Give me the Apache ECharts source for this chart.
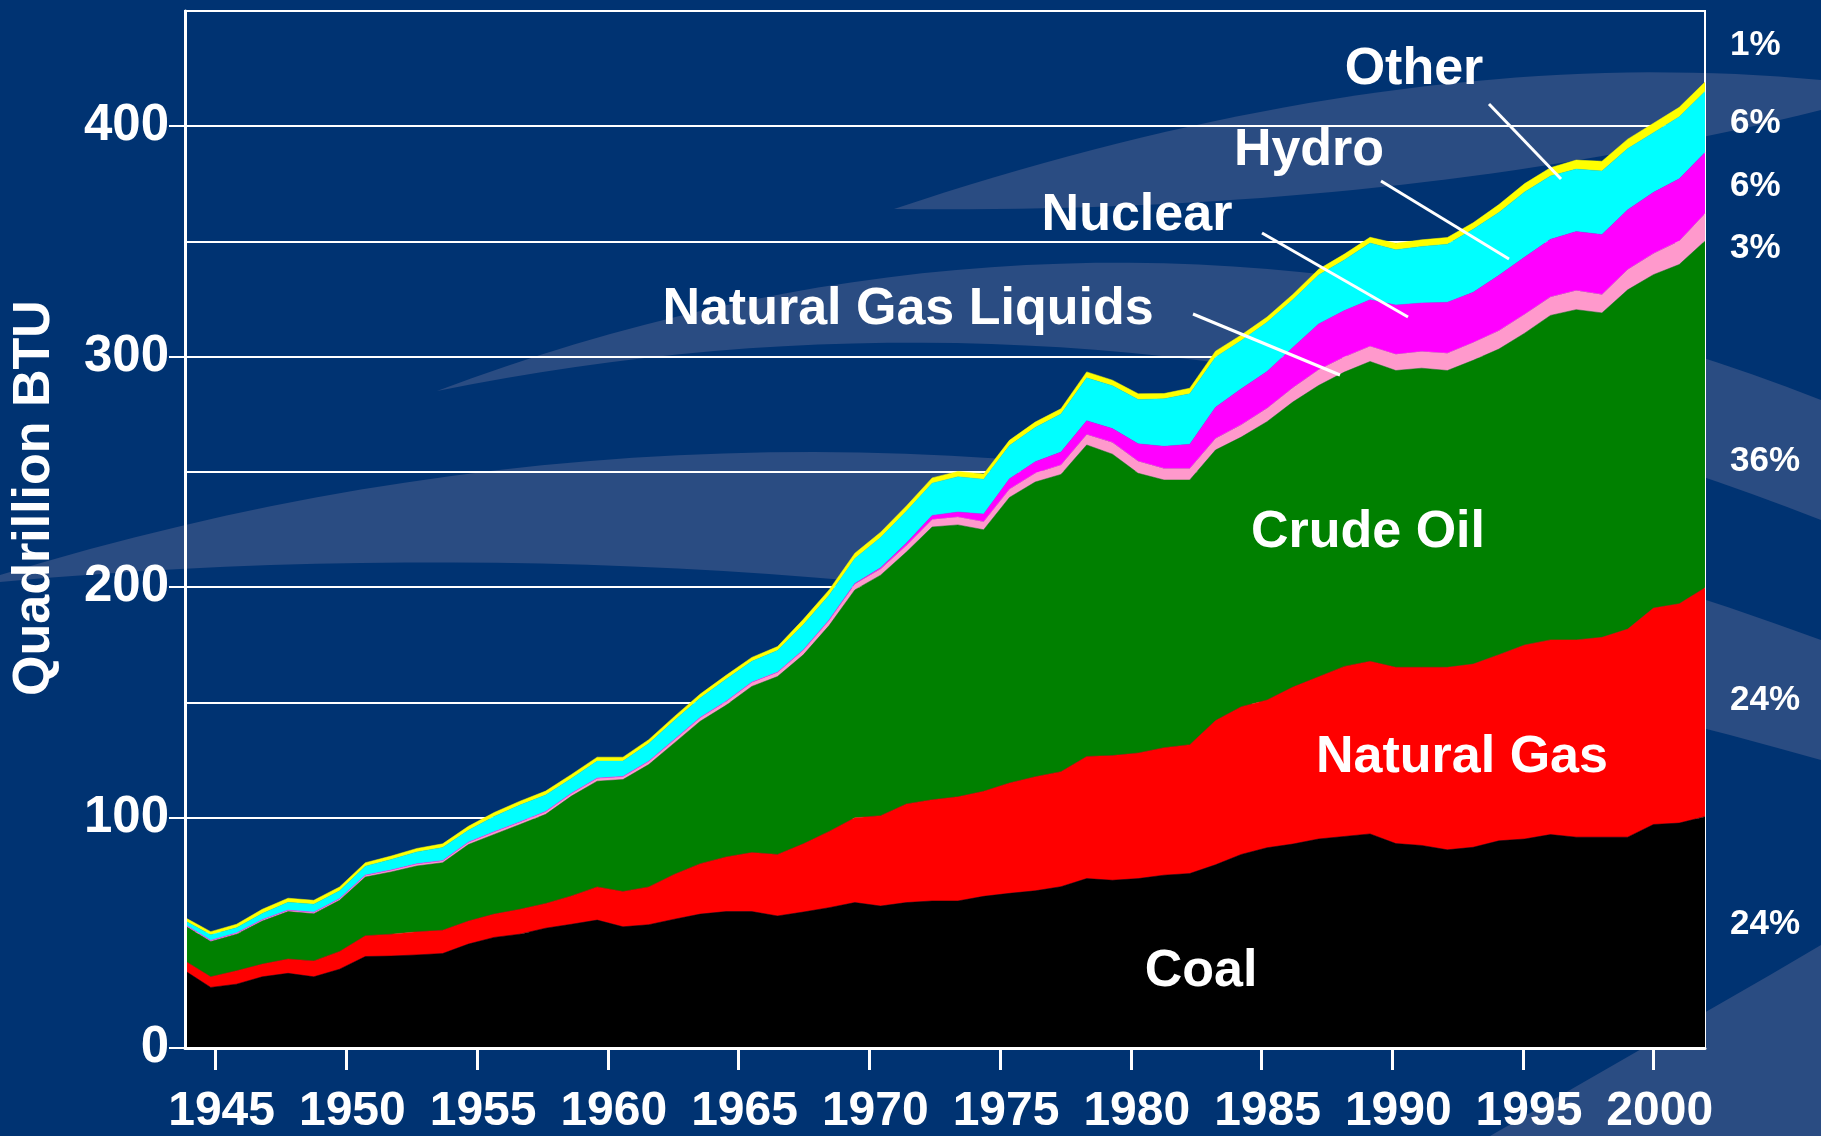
<!DOCTYPE html>
<html>
<head>
<meta charset="utf-8">
<title>Energy production by source</title>
<script src="https://cdn.jsdelivr.net/npm/echarts@6/dist/echarts.min.js"></script>
<style>
    html, body { margin: 0; padding: 0; background: #003372; }
    #chart { width: 1821px; height: 1136px; }
</style>
</head>
<body>
<div id="chart"></div>
<script>
// one point per year (quadrillion BTU)
const years = [
    1943, 1944, 1945, 1946, 1947, 1948, 1949, 1950, 1951, 1952,
    1953, 1954, 1955, 1956, 1957, 1958, 1959, 1960, 1961, 1962,
    1963, 1964, 1965, 1966, 1967, 1968, 1969, 1970, 1971, 1972,
    1973, 1974, 1975, 1976, 1977, 1978, 1979, 1980, 1981, 1982,
    1983, 1984, 1985, 1986, 1987, 1988, 1989, 1990, 1991, 1992,
    1993, 1994, 1995, 1996, 1997, 1998, 1999, 2000, 2001, 2002,
];
const coal = [
    33.5, 26.3, 27.7, 30.9, 32.4, 30.9, 34.2, 39.7, 39.9, 40.4,
    41.0, 45.1, 48.0, 49.4, 52.0, 53.7, 55.5, 52.6, 53.5, 55.9,
    58.1, 59.2, 59.2, 57.3, 59.0, 60.9, 63.1, 61.6, 63.1, 63.8,
    63.8, 65.8, 67.1, 68.2, 70.0, 73.5, 72.8, 73.5, 75.0, 75.7,
    79.5, 84.0, 86.9, 88.5, 90.7, 91.8, 92.9, 88.7, 87.9, 86.0,
    87.1, 89.9, 90.7, 92.6, 91.5, 91.5, 91.5, 97.0, 97.6, 100.4,
];
const naturalGas = [
    4.3, 4.6, 5.8, 5.5, 6.2, 6.9, 7.7, 9.0, 9.5, 10.0,
    10.1, 10.0, 10.1, 10.8, 10.7, 12.3, 14.4, 15.3, 16.4, 19.5,
    21.9, 23.7, 25.6, 26.7, 29.6, 33.1, 36.8, 39.2, 42.8, 43.9,
    45.2, 45.6, 47.9, 49.5, 49.9, 53.0, 54.1, 54.5, 55.3, 55.9,
    62.6, 64.1, 64.1, 68.1, 70.4, 73.8, 74.9, 76.5, 77.3, 79.2,
    79.5, 80.8, 84.2, 84.5, 85.6, 86.7, 90.3, 93.9, 95.2, 99.3,
];
const crudeOil = [
    15.2, 15.3, 15.9, 18.7, 20.6, 20.5, 22.2, 25.5, 27.0, 28.6,
    29.3, 33.2, 34.6, 36.8, 38.7, 43.3, 45.9, 48.6, 53.1, 57.0,
    61.8, 65.8, 72.1, 77.2, 82.0, 89.3, 98.9, 104.4, 109.3, 118.4,
    118.0, 113.5, 123.9, 127.9, 129.0, 135.2, 130.8, 121.4, 116.2, 114.9,
    117.4, 117.0, 120.8, 123.7, 126.4, 127.7, 130.1, 128.8, 129.8, 128.8,
    131.8, 132.6, 135.3, 140.8, 143.3, 140.8, 147.2, 144.7, 147.2, 150.5,
];
const ngLiquids = [
    0.5, 0.5, 0.5, 0.6, 0.6, 0.6, 0.7, 0.8, 0.8, 0.9,
    0.9, 1.0, 1.1, 1.1, 1.2, 1.2, 1.3, 1.3, 1.4, 1.5,
    1.6, 1.7, 1.8, 1.9, 2.1, 2.3, 2.5, 2.7, 2.9, 3.2,
    3.4, 3.5, 3.6, 3.8, 4.1, 4.5, 5.1, 5.2, 5.0, 5.0,
    5.0, 5.4, 5.8, 6.2, 6.8, 6.6, 6.6, 7.0, 7.2, 7.5,
    7.7, 8.0, 8.2, 8.0, 8.3, 8.0, 8.8, 9.2, 10.2, 11.9,
];
const nuclear = [
    0, 0, 0, 0, 0, 0, 0, 0, 0, 0,
    0, 0, 0, 0, 0, 0, 0, 0, 0, 0,
    0, 0, 0, 0, 0, 0.1, 0.3, 0.5, 1.0, 1.8,
    2.2, 3.3, 4.5, 5.0, 5.6, 6.0, 6.0, 7.6, 9.6, 10.5,
    13.6, 15.6, 16.0, 17.5, 19.9, 20.1, 20.2, 21.4, 21.1, 22.1,
    21.8, 24.0, 24.8, 25.0, 25.6, 26.0, 26.0, 26.5, 27.0, 26.5,
];
const hydro = [
    1.7, 2.4, 2.3, 2.7, 3.4, 3.5, 3.4, 3.9, 4.6, 5.2,
    5.7, 5.2, 6.7, 7.3, 7.2, 6.5, 7.4, 6.7, 7.7, 8.3,
    8.5, 9.6, 9.1, 9.4, 11.0, 10.8, 10.8, 13.1, 13.8, 14.0,
    15.3, 15.1, 14.4, 14.9, 16.5, 18.6, 18.6, 19.2, 20.6, 21.9,
    21.7, 20.9, 21.3, 20.7, 21.2, 22.0, 24.6, 24.0, 24.5, 25.2,
    27.4, 27.3, 28.3, 27.5, 27.1, 27.6, 26.5, 25.9, 26.9, 26.5,
];
const other = [
    1.4, 1.4, 1.5, 1.8, 1.8, 1.7, 1.7, 1.5, 1.5, 1.5,
    1.6, 1.7, 1.7, 1.7, 1.7, 1.7, 1.7, 1.7, 1.7, 1.7,
    1.7, 1.7, 1.7, 1.7, 2.3, 2.3, 2.3, 2.3, 2.3, 2.3,
    2.3, 2.3, 2.3, 2.3, 2.3, 2.6, 2.4, 2.5, 2.3, 2.4,
    2.6, 2.4, 2.3, 2.3, 2.5, 2.5, 2.5, 2.8, 2.9, 2.9,
    2.8, 3.4, 3.6, 3.6, 3.9, 4.2, 4.1, 4.1, 4.1, 4.1,
];
// shares printed down the right margin, top to bottom
const shareLabels = ["1%", "6%", "6%", "3%", "36%", "24%", "24%"];
const tickYears = [1945, 1950, 1955, 1960, 1965, 1970, 1975, 1980, 1985, 1990, 1995, 2000];
const btuTicks = [0, 100, 200, 300, 400];

const FONT = '"Liberation Sans", Arial, sans-serif';
const chart = echarts.init(document.getElementById("chart"));

const layers = [
    { name: "Coal", data: coal, color: "#000000" },
    { name: "Natural Gas", data: naturalGas, color: "#ff0000" },
    { name: "Crude Oil", data: crudeOil, color: "#008000" },
    { name: "Natural Gas Liquids", data: ngLiquids, color: "#ff99cc" },
    { name: "Nuclear", data: nuclear, color: "#ff00ff" },
    { name: "Hydro", data: hydro, color: "#00ffff" },
    { name: "Other", data: other, color: "#ffff00" },
];

// background ribbons (quadratic curves sampled into polygons)
function quad(p0, c, p1, n) {
    const pts = [];
    for (let i = 0; i <= n; i++) {
        const t = i / n, u = 1 - t;
        pts.push([
            u * u * p0[0] + 2 * u * t * c[0] + t * t * p1[0],
            u * u * p0[1] + 2 * u * t * c[1] + t * t * p1[1],
        ]);
    }
    return pts;
}
function ribbon(start, upC, upEnd, lowEnd, lowC, lowStart) {
    return {
        type: "polygon",
        z: -10,
        silent: true,
        shape: { points: quad(start, upC, upEnd, 40).concat(quad(lowEnd, lowC, lowStart, 40)) },
        style: { fill: "#2a4c82" },
    };
}
const ribbons = [
    ribbon([0, 575], [900, 300], [1821, 640], [1821, 760], [900, 500], [0, 582]),
    ribbon([437, 391], [1130, 130], [1821, 400], [1821, 520], [1130, 250], [437, 391]),
    ribbon([894, 209], [1400, 40], [1821, 80], [1821, 110], [1400, 215], [894, 209]),
    {
        type: "polygon", z: -10, silent: true,
        shape: { points: [[1490, 1136], [1770, 975], [1821, 945], [1821, 1136]] },
        style: { fill: "#2a4c82" },
    },
];

function label(text, x, y, size) {
    return {
        type: "text", z: 100, x, y,
        style: {
            text, fill: "#fff", font: `bold ${size}px ${FONT}`,
            textAlign: "center", textVerticalAlign: "middle",
        },
    };
}
function leader(x1, y1, x2, y2) {
    return {
        type: "line", z: 100,
        shape: { x1, y1, x2, y2 },
        style: { stroke: "#fff", lineWidth: 3 },
    };
}
const shareY = [45, 123, 186, 248, 461, 700, 924];

chart.setOption({
    animation: false,
    backgroundColor: "#003372",
    grid: {
        left: 185, right: 116, top: 11, bottom: 85,
        show: true, z: 3, borderColor: "#fff", borderWidth: 2,
        backgroundColor: "transparent",
    },
    xAxis: [
        { type: "category", data: years, boundaryGap: false, show: false },
        {
            type: "value", min: 1943.83, max: 2001.96, position: "bottom", z: 5,
            axisLine: { lineStyle: { color: "#fff", width: 3 } },
            axisTick: { customValues: tickYears, length: 22, lineStyle: { color: "#fff", width: 3 } },
            axisLabel: {
                customValues: tickYears, color: "#fff", fontSize: 48, fontWeight: "bold",
                fontFamily: FONT, margin: 40, padding: [0, 0, 0, 12],
                formatter: (v) => String(v),
            },
            splitLine: { show: false },
        },
    ],
    yAxis: [
        {
            type: "value", min: 0, max: 450, interval: 50, position: "left",
            axisLine: { show: false }, axisTick: { show: false }, axisLabel: { show: false },
            splitLine: { lineStyle: { color: "#fff", width: 2 } },
        },
        {
            type: "value", min: 0, max: 450, position: "left", offset: 0, z: 5,
            axisLine: { show: true, lineStyle: { color: "#fff", width: 3 } },
            axisTick: { customValues: btuTicks, length: 16, lineStyle: { color: "#fff", width: 2 } },
            axisLabel: {
                customValues: btuTicks, color: "#fff", fontSize: 51, fontWeight: "bold",
                fontFamily: FONT, margin: 16,
            },
            splitLine: { show: false },
        },
    ],
    series: layers.map((l) => ({
        name: l.name,
        type: "line",
        stack: "energy",
        xAxisIndex: 0,
        yAxisIndex: 0,
        data: l.data,
        symbol: "none",
        lineStyle: { width: 0.5, color: l.color },
        areaStyle: { color: l.color, opacity: 1 },
    })),
    graphic: [
        ...ribbons,
        {
            type: "text", z: 100, x: 35, y: 498, rotation: Math.PI / 2,
            style: {
                text: "Quadrillion BTU", fill: "#fff", font: `bold 52px ${FONT}`,
                textAlign: "center", textVerticalAlign: "middle",
            },
        },
        label("Other", 1414, 70, 52),
        label("Hydro", 1309, 151, 52),
        label("Nuclear", 1137, 216, 52),
        label("Natural Gas Liquids", 908, 310, 52),
        label("Crude Oil", 1368, 533, 52),
        label("Natural Gas", 1462, 758, 52),
        label("Coal", 1201, 972, 52),
        leader(1489, 104, 1561, 179),
        leader(1381, 181, 1509, 259),
        leader(1262, 233, 1408, 317),
        leader(1193, 314, 1340, 375),
        ...shareLabels.map((t, i) => ({
            type: "text", z: 100, x: 1730, y: shareY[i],
            style: {
                text: t, fill: "#fff", font: `bold 35px ${FONT}`,
                textAlign: "left", textVerticalAlign: "middle",
            },
        })),
    ],
});
</script>
</body>
</html>
